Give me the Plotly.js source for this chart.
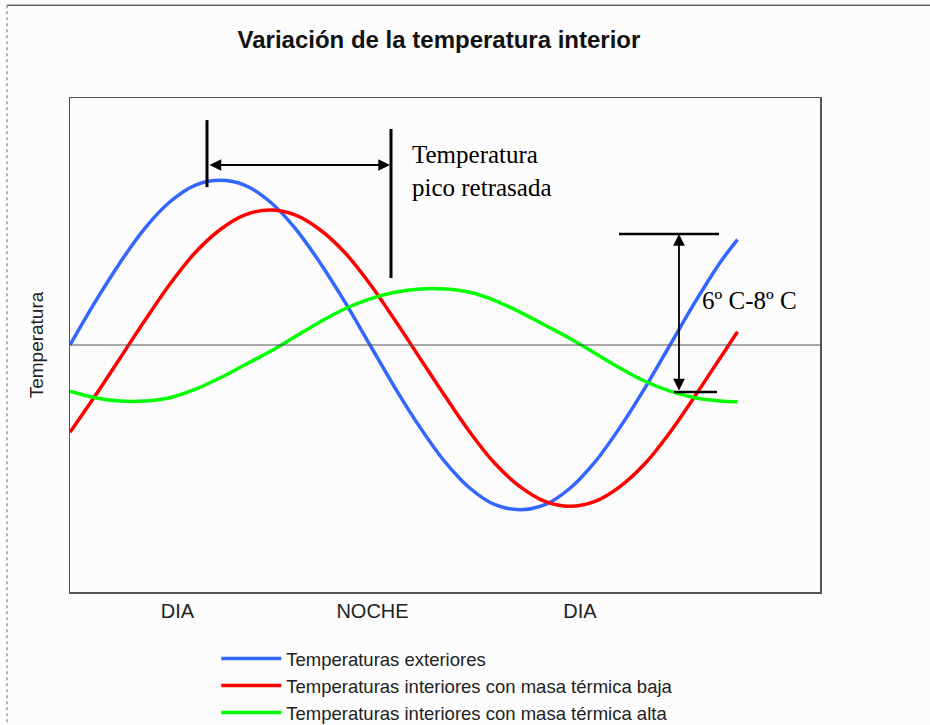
<!DOCTYPE html>
<html>
<head>
<meta charset="utf-8">
<script src="https://cdn.plot.ly/plotly-3.0.1.min.js"></script>
<style>html,body{margin:0;padding:0;background:#fcfcfc;}</style>
</head>
<body>
<div id="chart" style="width:930px;height:725px;"></div>
<script>
// Hours of the cycle (x) and temperatures
const hours = [0,1,2,3,4,5,6,7,8,9,10,11,12,13,14,15,16,17,18,19,20,21,22,23,24,25,26,26.7];
const tempExterior = [25.0,27.6,30.0,32.1,33.7,34.7,35.0,34.7,33.7,32.1,30.0,27.6,25.0,22.4,20.0,17.9,16.3,15.3,15.0,15.3,16.3,17.9,20.0,22.4,25.0,27.6,30.0,31.4];
const tempMasaBaja = [19.7,21.9,24.2,26.5,28.7,30.6,32.0,32.9,33.2,32.9,32.0,30.6,28.7,26.5,24.2,21.9,19.7,17.8,16.4,15.5,15.2,15.5,16.4,17.8,19.7,21.9,24.2,25.8];
const tempMasaAlta = [22.2,21.8,21.6,21.6,21.8,22.3,23.0,23.8,24.6,25.5,26.4,27.2,27.8,28.2,28.4,28.4,28.2,27.7,27.0,26.2,25.4,24.5,23.6,22.8,22.2,21.8,21.6,21.55];
const seriesNames = ['Temperaturas exteriores','Temperaturas interiores con masa térmica baja','Temperaturas interiores con masa térmica alta'];
const tickLabels = ['DIA','NOCHE','DIA'];
const tickHours = [4.3, 12.1, 20.4];
const meanTemp = 25;

const colors = ['#3366FF','#FF0000','#00FF00'];
const allY = [tempExterior, tempMasaBaja, tempMasaAlta];
const traces = allY.map((ys, i) => ({
  x: hours, y: ys, name: seriesNames[i], type: 'scatter', mode: 'lines',
  line: {color: colors[i], width: 3.5, shape: 'spline', smoothing: 1}
}));

const serif = 'Liberation Serif, Times New Roman, serif';
const sans = 'Liberation Sans, Arial, sans-serif';

const layout = {
  width: 930, height: 725,
  paper_bgcolor: '#fcfcfc', plot_bgcolor: '#fcfcfc',
  margin: {l: 70, r: 110, t: 98, b: 133, autoexpand: false},
  title: {text: 'Variación de la temperatura interior', x: 0.472, xref: 'container', y: 0.945, yref: 'container', yanchor: 'middle', xanchor: 'center',
          font: {family: sans, size: 24, color: '#111', weight: 'bold'}},
  xaxis: {range: [0, 30], showgrid: false, zeroline: false, showline: true, mirror: true, linecolor: '#555', linewidth: 1.5,
          tickvals: tickHours, ticktext: tickLabels, ticks: '', tickfont: {family: sans, size: 20, color: '#222'}, fixedrange: true},
  yaxis: {range: [10, 40], showgrid: false, zeroline: false, showline: true, mirror: true, linecolor: '#555', linewidth: 1.5,
          showticklabels: false, ticks: '',
          title: {text: 'Temperatura', font: {family: sans, size: 19, color: '#222'}, standoff: 20}, fixedrange: true},
  showlegend: true,
  legend: {x: 0.195, xanchor: 'left', y: -0.097, yanchor: 'top', orientation: 'v', bgcolor: 'rgba(0,0,0,0)',
           font: {family: sans, size: 18.5, color: '#222'}, itemwidth: 60, tracegroupgap: 0},
  shapes: [
    {type: 'line', xref: 'paper', yref: 'y', x0: 0, x1: 1, y0: meanTemp, y1: meanTemp, line: {color: '#555', width: 1.2}},
    {type: 'line', xref: 'x', yref: 'y', x0: 5.48, x1: 5.48, y0: 38.66, y1: 34.59, line: {color: '#000', width: 3}},
    {type: 'line', xref: 'x', yref: 'y', x0: 12.84, x1: 12.84, y0: 38.12, y1: 29.07, line: {color: '#000', width: 3}},
    {type: 'line', xref: 'x', yref: 'y', x0: 21.96, x1: 25.96, y0: 31.74, y1: 31.74, line: {color: '#000', width: 2.5}},
    {type: 'line', xref: 'x', yref: 'y', x0: 24.16, x1: 25.88, y0: 22.15, y1: 22.15, line: {color: '#000', width: 2.5}},
    {type: 'line', xref: 'paper', yref: 'paper', x0: -0.084, x1: 1.2, y0: 1.188, y1: 1.188, line: {color: '#666', width: 1.5}},
    {type: 'line', xref: 'paper', yref: 'paper', x0: -0.084, x1: -0.084, y0: 1.188, y1: -0.28, line: {color: '#888', width: 1.2, dash: 'dot'}}
  ],
  annotations: [
    {x: 12.8, y: 35.93, ax: 5.52, ay: 35.93, xref: 'x', yref: 'y', axref: 'x', ayref: 'y', text: '', showarrow: true,
     arrowhead: 2, startarrowhead: 2, arrowside: 'end+start', arrowsize: 1.3, startarrowsize: 1.3, arrowwidth: 1.8, arrowcolor: '#000', standoff: 0, startstandoff: 0},
    {x: 24.36, y: 31.74, ax: 24.36, ay: 22.15, xref: 'x', yref: 'y', axref: 'x', ayref: 'y', text: '', showarrow: true,
     arrowhead: 2, startarrowhead: 2, arrowside: 'end+start', arrowsize: 1.3, startarrowsize: 1.3, arrowwidth: 1.8, arrowcolor: '#000', standoff: 0, startstandoff: 0},
    {x: 13.6, y: 35.57, xref: 'x', yref: 'y', text: 'Temperatura<br>pico retrasada', showarrow: false, xanchor: 'left', yanchor: 'middle', align: 'left',
     font: {family: serif, size: 25, color: '#000'}},
    {x: 25.2, y: 27.73, xref: 'x', yref: 'y', text: '6º C-8º C', showarrow: false, xanchor: 'left', yanchor: 'middle',
     font: {family: serif, size: 25, color: '#000'}}
  ]
};

Plotly.newPlot('chart', traces, layout, {displayModeBar: false, staticPlot: true});
</script>
</body>
</html>
